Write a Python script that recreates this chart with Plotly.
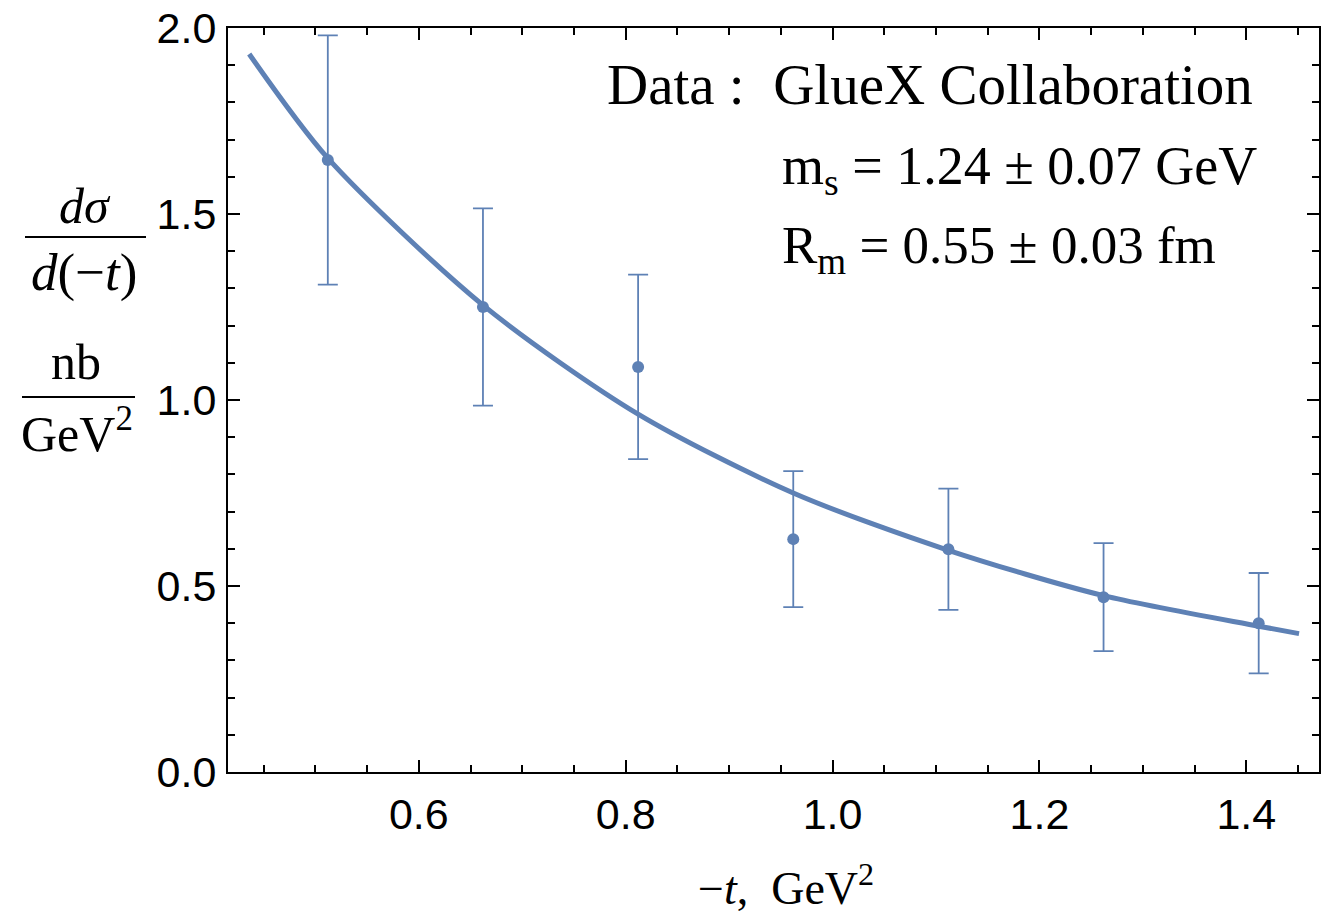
import plotly.graph_objects as go

# ---- data ----
t_data = [0.512, 0.662, 0.812, 0.962, 1.112, 1.262, 1.412]
xs_data = [1.645, 1.250, 1.089, 0.626, 0.599, 0.470, 0.400]
xs_err = [0.335, 0.265, 0.248, 0.183, 0.163, 0.145, 0.135]

# fitted curve
t_fit = [0.436, 0.512, 0.662, 0.812, 0.962, 1.112, 1.262, 1.412, 1.451]
xs_fit = [1.930, 1.650, 1.255, 0.962, 0.750, 0.596, 0.474, 0.392, 0.372]

x_ticks = [0.6, 0.8, 1.0, 1.2, 1.4]
y_ticks = [0.0, 0.5, 1.0, 1.5, 2.0]

BLUE = "#5E81B5"
SERIF = "Liberation Serif, Times New Roman, serif"
SANS = "Liberation Sans, Arial, sans-serif"

# page has an 8px body margin: work in screen pixels, convert to figure
OFF = 8
FIG_W, FIG_H = 1330 - 2 * OFF, 922 - 2 * OFF

# plot-area geometry (screen pixels)
L, R, T, B = 228, 1319, 28, 772
W, H = R - L, B - T


def px(x):
    return (x - L) / W


def py(y):
    return (B - y) / H


fig = go.Figure()

fig.add_trace(go.Scatter(
    x=t_fit, y=xs_fit, mode="lines",
    line=dict(color=BLUE, width=5, shape="spline", smoothing=0.8),
    showlegend=False, hoverinfo="skip",
))

fig.add_trace(go.Scatter(
    x=t_data, y=xs_data, mode="markers",
    marker=dict(color=BLUE, size=12),
    error_y=dict(type="data", array=xs_err, visible=True,
                 color=BLUE, thickness=1.8, width=10),
    showlegend=False,
))

axis_common = dict(
    showline=True, linecolor="black", linewidth=2, mirror="allticks",
    ticks="inside", tickcolor="black", tickwidth=1.6, ticklen=12,
    showgrid=False, zeroline=False, automargin=False,
    ticklabeloverflow="allow",
    tickfont=dict(family=SANS, size=43, color="black"),
)

fig.update_xaxes(
    range=[0.4155, 1.4703], tickvals=x_ticks, tickformat=".1f",
    minor=dict(dtick=0.05, tick0=0, ticks="inside", ticklen=7,
               tickcolor="black", tickwidth=1.6, showgrid=False),
    ticklabelstandoff=3,
    **axis_common,
)
fig.update_yaxes(
    range=[0, 2.0], tickvals=y_ticks, tickformat=".1f",
    minor=dict(dtick=0.1, tick0=0, ticks="inside", ticklen=7,
               tickcolor="black", tickwidth=1.6, showgrid=False),
    ticklabelstandoff=1,
    **axis_common,
)

ann = []


def text(x, y, s, size, anchor="center"):
    ann.append(dict(x=px(x), y=py(y), xref="paper", yref="paper",
                    xanchor=anchor, yanchor="middle", showarrow=False,
                    text=s, font=dict(family=SERIF, size=size, color="black")))


# in-plot text
text(605, 84, "Data :\u00a0\u00a0GlueX Collaboration", 57, "left")
text(780, 169, "m<sub>s</sub> = 1.24 ± 0.07 GeV", 54, "left")
text(780, 249, "R<sub>m</sub> = 0.55 ± 0.03 fm", 53, "left")

# y-axis label: two stacked fractions
text(85, 206, "<i>dσ</i>", 50)
text(84, 272, "<i>d</i>(−<i>t</i>)", 53)
text(76, 362, "nb", 50)
text(77, 430, "GeV<sup>2</sup>", 50)

# x-axis title
text(786, 885, "−<i>t</i>,\u00a0\u00a0GeV<sup>2</sup>", 46)

shapes = [
    dict(type="line", xref="paper", yref="paper",
         x0=px(25), x1=px(146), y0=py(237), y1=py(237),
         line=dict(color="black", width=2)),
    dict(type="line", xref="paper", yref="paper",
         x0=px(22), x1=px(135), y0=py(397), y1=py(397),
         line=dict(color="black", width=2)),
]

fig.update_layout(
    width=FIG_W, height=FIG_H,
    margin=dict(l=L - OFF, r=(1330 - OFF) - R, t=T - OFF, b=(922 - OFF) - B),
    paper_bgcolor="white", plot_bgcolor="white",
    annotations=ann, shapes=shapes,
    showlegend=False,
)

fig.write_html("out.html")
